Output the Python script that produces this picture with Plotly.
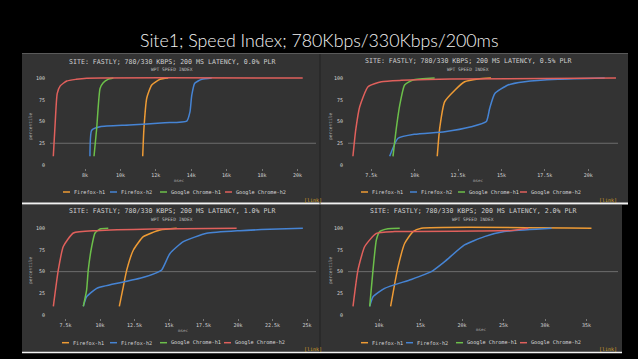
import plotly.graph_objects as go

# ---------------- data ----------------
MAIN_TITLE = "Site1; Speed Index; 780Kbps/330Kbps/200ms"
SERIES = ["Firefox-h1", "Firefox-h2", "Google Chrome-h1", "Google Chrome-h2"]
COLORS = ["#ee9b35", "#4684d4", "#6cbf4a", "#e0605c"]
PANEL_TITLES = [
    "SITE: FASTLY; 780/330 KBPS; 200 MS LATENCY, 0.0% PLR",
    "SITE: FASTLY; 780/330 KBPS; 200 MS LATENCY, 0.5% PLR",
    "SITE: FASTLY; 780/330 KBPS; 200 MS LATENCY, 1.0% PLR",
    "SITE: FASTLY; 780/330 KBPS; 200 MS LATENCY, 2.0% PLR",
]
SUBTITLE = "WPT SPEED INDEX"
X_TITLE = "msec"
Y_TITLE = "percentile"
LINK_TEXT = "[link]"
Y_TICKS = [0, 25, 50, 75, 100]

# panel 1 : 0.0% PLR  (msec, percentile)
p1_ff_h1_ms = [11260, 11330, 11490, 11770, 12240, 12700]
p1_ff_h1_pct = [10, 42, 77, 92, 98.5, 100]
p1_ff_h2_ms = [8280, 8380, 8850, 10500, 12500, 13750, 13930, 14030, 14200, 14600, 15160]
p1_ff_h2_pct = [10, 40, 44, 46, 48.5, 50.5, 61, 80, 94, 98.5, 100]
p1_gc_h1_ms = [8510, 8660, 8850, 9030, 9300, 9600]
p1_gc_h1_pct = [10, 42, 88, 94.6, 98.5, 100]
p1_gc_h2_ms = [6210, 6320, 6430, 6600, 6970, 7500, 8100, 20300]
p1_gc_h2_pct = [10, 50, 82, 91, 96.5, 98.5, 99.8, 100]
p1_ticks = [8000, 10000, 12000, 14000, 16000, 18000, 20000]
p1_ticklabels = ["8k", "10k", "12k", "14k", "16k", "18k", "20k"]

# panel 2 : 0.5% PLR
p2_ff_h1_ms = [11300, 11440, 11730, 12310, 12880, 13650, 14400]
p2_ff_h1_pct = [10, 42, 72.8, 86, 95.7, 98.9, 100]
p2_ff_h2_ms = [8560, 9040, 10000, 11730, 13260, 14130, 14320, 14610, 15380, 16340, 18260, 20950]
p2_ff_h2_pct = [10, 30.7, 35.3, 38.3, 44, 50, 65, 82, 92, 95.7, 98.5, 100]
p2_gc_h1_ms = [8750, 8940, 9140, 9420, 9900, 11150]
p2_gc_h1_pct = [10, 42, 69, 92, 97.7, 100]
p2_gc_h2_ms = [6440, 6600, 6830, 7310, 8080, 9230, 12100, 21600]
p2_gc_h2_pct = [10, 40, 67, 90, 95.7, 97.3, 98.9, 100]
p2_ticks = [7500, 10000, 12500, 15000, 17500, 20000]
p2_ticklabels = ["7.5k", "10k", "12.5k", "15k", "17.5k", "20k"]

# panel 3 : 1.0% PLR
p3_ff_h1_ms = [11400, 11690, 11940, 12420, 13140, 14350, 15560]
p3_ff_h1_pct = [10, 32.7, 52, 75, 90.4, 98, 100]
p3_ff_h2_ms = [8790, 9030, 9760, 11450, 12900, 13990, 14470, 15070, 16040, 17730, 20140, 22300, 24700]
p3_ff_h2_pct = [10, 21, 30.8, 37.3, 42.3, 48, 52, 71, 84.6, 94.2, 97.3, 98.8, 100]
p3_gc_h1_ms = [8790, 9030, 9150, 9400, 9640, 10000, 10600]
p3_gc_h1_pct = [10, 28.8, 52, 79, 94.6, 99.2, 100]
p3_gc_h2_ms = [6620, 6980, 7340, 8070, 9760, 13860, 19900]
p3_gc_h2_pct = [10, 52, 79, 94.6, 97.3, 99.2, 100]
p3_ticks = [7500, 10000, 12500, 15000, 17500, 20000, 22500, 25000]
p3_ticklabels = ["7.5k", "10k", "12.5k", "15k", "17.5k", "20k", "22.5k", "25k"]

# panel 4 : 2.0% PLR
p4_ff_h1_ms = [11400, 11900, 12300, 13100, 14100, 15100, 35600]
p4_ff_h1_pct = [10, 36.5, 55.8, 82.7, 96.2, 100, 100]
p4_ff_h2_ms = [8880, 9280, 10680, 13890, 16300, 17900, 20300, 22700, 25100, 30800]
p4_ff_h2_pct = [10, 21, 30.8, 41, 50, 61.5, 80.8, 90.4, 96.2, 100]
p4_gc_h1_ms = [8880, 9280, 9680, 10080, 11080, 12500]
p4_gc_h1_pct = [10, 52, 86.5, 96.2, 99.5, 100]
p4_gc_h2_ms = [6870, 7470, 8280, 9680, 11900, 22000, 26000, 28000]
p4_gc_h2_pct = [10, 52, 79, 94.2, 96.2, 96.8, 97.5, 100]
p4_ticks = [10000, 15000, 20000, 25000, 30000, 35000]
p4_ticklabels = ["10k", "15k", "20k", "25k", "30k", "35k"]

PANEL_DATA = [
    ([p1_ff_h1_ms, p1_ff_h2_ms, p1_gc_h1_ms, p1_gc_h2_ms],
     [p1_ff_h1_pct, p1_ff_h2_pct, p1_gc_h1_pct, p1_gc_h2_pct], p1_ticks, p1_ticklabels),
    ([p2_ff_h1_ms, p2_ff_h2_ms, p2_gc_h1_ms, p2_gc_h2_ms],
     [p2_ff_h1_pct, p2_ff_h2_pct, p2_gc_h1_pct, p2_gc_h2_pct], p2_ticks, p2_ticklabels),
    ([p3_ff_h1_ms, p3_ff_h2_ms, p3_gc_h1_ms, p3_gc_h2_ms],
     [p3_ff_h1_pct, p3_ff_h2_pct, p3_gc_h1_pct, p3_gc_h2_pct], p3_ticks, p3_ticklabels),
    ([p4_ff_h1_ms, p4_ff_h2_ms, p4_gc_h1_ms, p4_gc_h2_ms],
     [p4_ff_h1_pct, p4_ff_h2_pct, p4_gc_h1_pct, p4_gc_h2_pct], p4_ticks, p4_ticklabels),
]

# ---------------- layout geometry (pixels) ----------------
W, H = 638, 359
def fx(x): return x / W
def fy(y): return 1 - y / H

PANELS = [
    dict(box=(22, 53, 319, 203), xdom=(50, 316), ydom=(75.4, 167.6), xr=(6023, 21050), grid=25,
         title=(172, 62), sub=69, ytitle=(30, 127), xtitle=(180, 180), leg_y=192,
         leg_x=[63, 110, 160, 225], link=(313, 200)),
    dict(box=(321, 53, 628, 203), xdom=(348, 618), ydom=(75.4, 167.6), xr=(6156, 21717), grid=25,
         title=(468, 61), sub=69, ytitle=(330, 127), xtitle=(478, 180), leg_y=192,
         leg_x=[361, 410, 458, 520], link=(608, 200)),
    dict(box=(22, 205, 319, 352), xdom=(50, 316), ydom=(225.7, 317.6), xr=(6377, 25652), grid=50,
         title=(172, 211), sub=219, ytitle=(30, 271), xtitle=(183, 330), leg_y=342.7,
         leg_x=[62, 110, 160, 224], link=(313, 349)),
    dict(box=(321, 205, 622, 352), xdom=(348, 618), ydom=(225.7, 317.6), xr=(6265, 38795), grid=50,
         title=(473, 211), sub=219, ytitle=(330, 271), xtitle=(481, 329), leg_y=342.7,
         leg_x=[361, 406, 456, 520], link=(608, 349)),
]

MONO = "DejaVu Sans Mono"
TXT = "#d6d6d6"
PANEL_BG = "#333333"

fig = go.Figure()
shapes, annotations = [], []
layout_axes = {}


def note(x, y, text, font, xanchor="center", **kw):
    annotations.append(dict(x=fx(x), y=fy(y), xref="paper", yref="paper", text=text,
                            showarrow=False, xanchor=xanchor, yanchor="middle", font=font, **kw))


for i, (pd_, pan) in enumerate(zip(PANEL_DATA, PANELS)):
    xs, ys, tv, tl = pd_
    n = "" if i == 0 else str(i + 1)
    xa, ya = "x" + n, "y" + n
    for k in range(4):
        fig.add_trace(go.Scatter(
            x=xs[k], y=ys[k], mode="lines", name=SERIES[k], showlegend=False,
            line=dict(color=COLORS[k], width=1.5, shape="spline", smoothing=0.5),
            xaxis=xa, yaxis=ya, hoverinfo="skip"))
    x0, y0, x1, y1 = pan["box"]
    shapes.append(dict(type="rect", xref="paper", yref="paper", x0=fx(x0), x1=fx(x1),
                       y0=fy(y1), y1=fy(y0), fillcolor=PANEL_BG, line=dict(width=0), layer="below"))
    shapes.append(dict(type="line", xref=xa + " domain", yref=ya, x0=0, x1=1,
                       y0=pan["grid"], y1=pan["grid"], line=dict(color="#6e6e6e", width=1), layer="below"))
    layout_axes["xaxis" + n] = dict(
        domain=[fx(pan["xdom"][0]), fx(pan["xdom"][1])], range=list(pan["xr"]), anchor=ya,
        tickvals=tv, ticktext=tl, showgrid=False, zeroline=False, showline=False,
        ticks="outside", ticklen=2, tickcolor="#777", tickwidth=1,
        tickfont=dict(family=MONO, size=5, color=TXT), fixedrange=True)
    layout_axes["yaxis" + n] = dict(
        domain=[fy(pan["ydom"][1]), fy(pan["ydom"][0])], range=[-3, 103], anchor=xa,
        tickvals=Y_TICKS, showgrid=False, zeroline=False, showline=False,
        tickfont=dict(family=MONO, size=5, color=TXT), ticklabelstandoff=4, fixedrange=True)

    tx, ty = pan["title"]
    note(tx, ty, PANEL_TITLES[i], dict(family=MONO, size=6.6, color="#cfcfcf"))
    note(tx, pan["sub"], SUBTITLE, dict(family=MONO, size=4.6, color="#bdbdbd"))
    note(pan["ytitle"][0], pan["ytitle"][1], Y_TITLE, dict(family=MONO, size=4.5, color="#a8a8a8"),
         textangle=-90)
    note(pan["xtitle"][0], pan["xtitle"][1], X_TITLE, dict(family=MONO, size=4.2, color="#a8a8a8"))
    for k in range(4):
        lx = pan["leg_x"][k]
        shapes.append(dict(type="line", xref="paper", yref="paper", x0=fx(lx), x1=fx(lx + 7),
                           y0=fy(pan["leg_y"]), y1=fy(pan["leg_y"]), line=dict(color=COLORS[k], width=1.5)))
        note(lx + 9, pan["leg_y"], SERIES[k], dict(family=MONO, size=5.2, color=TXT), xanchor="left")
    note(pan["link"][0], pan["link"][1], LINK_TEXT, dict(family=MONO, size=5, color="#d9a22a"))

# separators
shapes.append(dict(type="line", xref="paper", yref="paper", x0=fx(22), x1=fx(628), y0=fy(203.5), y1=fy(203.5),
                   line=dict(color="#f2f2f2", width=2)))
shapes.append(dict(type="line", xref="paper", yref="paper", x0=fx(22), x1=fx(622), y0=fy(352.5), y1=fy(352.5),
                   line=dict(color="#f2f2f2", width=1.5)))
shapes.append(dict(type="line", xref="paper", yref="paper", x0=fx(320), x1=fx(320), y0=fy(53), y1=fy(352),
                   line=dict(color="#555555", width=1)))
shapes.append(dict(type="line", xref="paper", yref="paper", x0=fx(22), x1=fx(628), y0=fy(53.5), y1=fy(53.5),
                   line=dict(color="#5a5a5a", width=1)))

note(319, 40, MAIN_TITLE, dict(family="Lato", size=17.8, color="#f4f4f4", weight=300))

fig.update_layout(
    width=W, height=H, margin=dict(l=0, r=0, t=0, b=0),
    paper_bgcolor="#000000", plot_bgcolor="rgba(0,0,0,0)",
    shapes=shapes, annotations=annotations, showlegend=False, **layout_axes)

fig.write_html("out.html", config={"displayModeBar": False},
               post_script="document.body.style.margin='0';document.body.style.background='#000';")
